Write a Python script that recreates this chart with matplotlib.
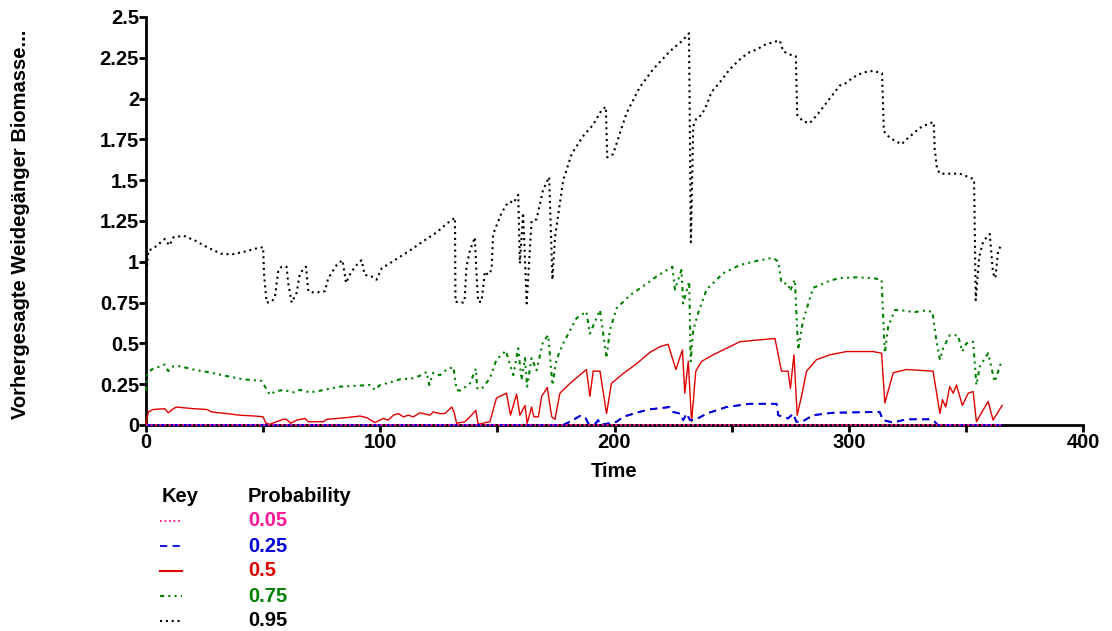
import matplotlib
matplotlib.use("Agg")
import matplotlib.pyplot as plt
from matplotlib.lines import Line2D

plt.rcParams['font.family'] = ['Liberation Sans', 'DejaVu Sans']
plt.rcParams['font.weight'] = 'bold'

# ---------------- data ----------------
p95_t = [0, 1, 3, 8, 10, 11.7, 16, 21, 26, 32, 36.5, 41.5, 46.5, 50, 50.4, 51.5, 53.6, 55, 56.5, 58, 60,
         60.7, 62.2, 64.3, 65.7, 68.3, 69.3, 72, 76.4, 77.8, 81.4, 83.9, 85.4, 87, 89.2, 92, 93.4, 96.3,
         98.4, 100.6, 104, 112.7, 119.8, 124, 129, 131.9, 132.1, 135.4, 136, 136.8, 138.3, 140.4, 141,
         141.8, 143.2, 144.7, 146, 147.5, 148.2, 151.8, 153.9, 155.4, 156.8, 158.9, 159.6, 161, 162.5,
         164.6, 166.7, 169.5, 172.1, 173.5, 174.6, 178.1, 181.7, 186.6, 190.9, 194.5, 196.3, 196.9,
         199.4, 205.1, 210.8, 216.5, 223.6, 228.6, 231.8, 232.6, 233.6, 235, 237.2, 239.3, 241.4, 245,
         249.2, 253.5, 257, 260.6, 264.2, 268.8, 270.6, 272, 274.9, 277.4, 278, 280.5, 283.4, 287.6,
         290.5, 296.2, 298.3, 301.9, 306.1, 310.4, 314.2, 315, 317.5, 322.5, 325.4, 330.3, 334.6, 336.3,
         336.7, 337.7, 338.9, 343.1, 347.4, 351, 353.5, 354.2, 355.7, 357.3, 358.8, 360.2, 361.6, 362.6,
         363.8, 365.5]
p95_v = [0.90, 1.07, 1.08, 1.14, 1.10, 1.15, 1.16, 1.13, 1.09, 1.05, 1.045, 1.06, 1.08, 1.09, 0.92, 0.75,
         0.755, 0.78, 0.95, 0.97, 0.97, 0.87, 0.75, 0.81, 0.93, 0.97, 0.82, 0.81, 0.82, 0.90, 0.98, 1.01,
         0.87, 0.92, 0.97, 1.01, 0.92, 0.91, 0.89, 0.96, 0.99, 1.07, 1.14, 1.18, 1.24, 1.27, 0.755, 0.75,
         0.76, 0.97, 1.07, 1.15, 0.95, 0.755, 0.755, 0.94, 0.92, 0.95, 1.17, 1.30, 1.35, 1.37, 1.36, 1.41,
         0.99, 1.30, 0.745, 1.25, 1.26, 1.44, 1.52, 0.89, 1.15, 1.50, 1.66, 1.77, 1.84, 1.93, 1.95, 1.64,
         1.66, 1.91, 2.07, 2.18, 2.29, 2.35, 2.40, 1.12, 1.83, 1.88, 1.90, 1.96, 2.04, 2.10, 2.18, 2.24,
         2.28, 2.30, 2.33, 2.35, 2.355, 2.29, 2.27, 2.26, 1.90, 1.86, 1.85, 1.92, 1.975, 2.08, 2.09, 2.13,
         2.16, 2.17, 2.155, 1.80, 1.76, 1.72, 1.76, 1.82, 1.85, 1.855, 1.69, 1.57, 1.54, 1.54, 1.54, 1.52,
         1.505, 0.765, 1.03, 1.12, 1.15, 1.17, 0.93, 0.90, 1.07, 1.11]

p75_t = [0, 0.3, 0.5, 2.4, 8, 9.5, 11.7, 14.5, 20.2, 28, 34.4, 41.5, 49.4, 50.8, 52.9, 55, 58.6, 62.9, 65.7,
         70, 74.3, 82.8, 95.6, 97.7, 99.9, 104, 108.4, 113.4, 117.6, 119.8, 120.9, 122.6, 125.5, 128.3,
         131.2, 132.6, 134, 138.3, 140.8, 141.4, 143.2, 146.8, 149.6, 153.6, 155.6, 156.8, 158.9, 160.3,
         161.8, 162.7, 164.6, 166.7, 169.5, 171.7, 173.5, 175.2, 178.1, 183.8, 188, 189.5, 193.8, 196.6,
         198, 200.9, 206.6, 212.2, 217.9, 224.7, 225.8, 228.6, 229.3, 231.9, 232.5, 233.6, 235.7, 239.3,
         246.4, 253.5, 260.6, 267.7, 269.9, 271.3, 274.1, 274.9, 277, 278.4, 280.5, 284.8, 292, 296.2,
         303.3, 310.4, 314, 315.4, 316.8, 319.7, 324.6, 327.5, 331.7, 335.7, 337.4, 338.9, 340.3, 343.1,
         346.6, 348.5, 350.2, 353.1, 354.5, 356, 359.5, 362.3, 365.2]
p75_v = [0.21, 0.25, 0.31, 0.34, 0.37, 0.33, 0.36, 0.36, 0.34, 0.32, 0.30, 0.28, 0.27, 0.235, 0.185, 0.205,
         0.215, 0.20, 0.215, 0.20, 0.21, 0.235, 0.245, 0.215, 0.245, 0.26, 0.28, 0.285, 0.305, 0.325,
         0.245, 0.32, 0.305, 0.34, 0.355, 0.215, 0.21, 0.255, 0.345, 0.225, 0.22, 0.285, 0.40, 0.455,
         0.36, 0.305, 0.47, 0.275, 0.41, 0.235, 0.41, 0.335, 0.51, 0.55, 0.245, 0.40, 0.50, 0.655, 0.695,
         0.56, 0.705, 0.41, 0.58, 0.715, 0.795, 0.85, 0.91, 0.97, 0.83, 0.95, 0.745, 0.88, 0.39, 0.58,
         0.685, 0.83, 0.93, 0.98, 1.005, 1.025, 1.00, 0.87, 0.865, 0.82, 0.89, 0.46, 0.64, 0.84, 0.885,
         0.90, 0.905, 0.90, 0.89, 0.44, 0.60, 0.705, 0.70, 0.69, 0.70, 0.695, 0.52, 0.40, 0.47, 0.55,
         0.55, 0.45, 0.50, 0.51, 0.245, 0.36, 0.44, 0.265, 0.39]

p50_t = [0, 1, 3, 8, 9.5, 11.7, 13, 20.2, 26, 28, 34.4, 40, 46.5, 50, 51.2, 52.9, 58.6, 60, 61.7, 64.3, 67.9,
         69.3, 75.7, 77.1, 85.6, 91.3, 94.2, 97.7, 101.3, 103.4, 105.6, 107.7, 109.9, 112, 114.1, 117,
         121.2, 122.6, 125.5, 127.6, 130.5, 131.5, 132.6, 136.1, 138.3, 140.8, 141.8, 146.8, 149.6,
         153.9, 155.6, 158.2, 159.6, 161.8, 162.7, 164.6, 165.6, 167.5, 168.9, 171.3, 173.2, 174.6,
         176.7, 181, 188, 189.5, 190.9, 193.8, 196.6, 198.7, 203.7, 209.4, 215.1, 219.4, 222.9, 226.2,
         229, 230, 231.5, 232.9, 234.7, 237.2, 242.1, 247.8, 253.5, 260.6, 268.5, 271.3, 274.1, 275.1,
         276.6, 278, 279.8, 282, 286.2, 291.9, 299, 310.4, 314, 315.4, 319, 324.6, 336, 338.9, 340,
         341.4, 343.1, 344.6, 346, 348.5, 351, 353.1, 354.5, 359.5, 361.6, 365.5]
p50_v = [0.01, 0.08, 0.095, 0.10, 0.075, 0.10, 0.11, 0.10, 0.095, 0.08, 0.07, 0.06, 0.055, 0.05, 0.01,
         0.005, 0.035, 0.035, 0.01, 0.03, 0.04, 0.02, 0.02, 0.035, 0.045, 0.055, 0.045, 0.015, 0.04, 0.03,
         0.06, 0.07, 0.05, 0.06, 0.05, 0.075, 0.06, 0.08, 0.07, 0.07, 0.11, 0.08, 0.01, 0.02, 0.05, 0.09,
         0.005, 0.02, 0.165, 0.195, 0.06, 0.19, 0.06, 0.12, 0.01, 0.11, 0.05, 0.05, 0.175, 0.23, 0.05,
         0.035, 0.195, 0.255, 0.34, 0.175, 0.33, 0.33, 0.07, 0.255, 0.315, 0.375, 0.445, 0.48, 0.495,
         0.34, 0.46, 0.195, 0.39, 0.02, 0.33, 0.39, 0.43, 0.47, 0.51, 0.52, 0.53, 0.33, 0.33, 0.225, 0.43,
         0.06, 0.175, 0.33, 0.40, 0.43, 0.45, 0.45, 0.44, 0.135, 0.32, 0.34, 0.33, 0.07, 0.155, 0.11,
         0.235, 0.195, 0.245, 0.12, 0.195, 0.205, 0.02, 0.145, 0.03, 0.12]

p25_t = [0, 178, 181, 185.2, 187.4, 188.8, 192, 193, 194, 200.9, 203.7, 209.4, 214.4, 223.6, 225, 227.9,
         229.3, 230.8, 232.2, 234.3, 239.3, 247.8, 257.8, 269.2, 269.9, 274.1, 276.3, 277.6, 280, 284.8,
         293.3, 313.2, 314.6, 319, 324.6, 334.6, 336.7, 338, 365.5]
p25_v = [0, 0, 0.02, 0.055, 0.05, 0.01, 0.01, 0.03, 0.0, 0.02, 0.05, 0.075, 0.095, 0.11, 0.08, 0.07, 0.03,
         0.07, 0.03, 0.03, 0.07, 0.11, 0.13, 0.13, 0.06, 0.04, 0.07, 0.02, 0.02, 0.06, 0.075, 0.08, 0.03,
         0.015, 0.035, 0.035, 0.02, 0.0, 0.0]

p05_t = [0, 365.5]
p05_v = [0, 0]

probabilities = ['0.05', '0.25', '0.5', '0.75', '0.95']
x_ticks = [0, 50, 100, 150, 200, 250, 300, 350, 400]
x_ticklabels = ['0', '', '100', '', '200', '', '300', '', '400']
y_ticks = [0, 0.25, 0.5, 0.75, 1, 1.25, 1.5, 1.75, 2, 2.25, 2.5]
y_ticklabels = ['0', '0.25', '0.5', '0.75', '1', '1.25', '1.5', '1.75', '2', '2.25', '2.5']

# ---------------- styles ----------------
styles = [
    dict(color='#ff1493', ls=(0, (1, 1.5)), lw=1.3),
    dict(color='#0000dd', ls=(0, (4, 3)), lw=1.3),
    dict(color='#e00000', ls='-', lw=1.0),
    dict(color='#008000', ls=(0, (2, 2, 1, 2, 1, 2)), lw=1.5),
    dict(color='#000000', ls=(0, (1, 1.8)), lw=1.5),
]
series = [(p05_t, p05_v), (p25_t, p25_v), (p50_t, p50_v), (p75_t, p75_v), (p95_t, p95_v)]

FS = 14.5

fig = plt.figure(figsize=(11.12, 6.31), dpi=100)
ax = fig.add_axes([146 / 1112, 1 - 425 / 631, (1083 - 146) / 1112, (425 - 17) / 631])

for (t, v), st in zip(series[::-1], styles[::-1]):
    ax.plot(t, v, color=st['color'], linestyle=st['ls'], linewidth=st['lw'], clip_on=False, zorder=3)
# redraw zero-level lines on top
ax.plot(p25_t, p25_v, color=styles[1]['color'], linestyle=styles[1]['ls'], lw=1.3, clip_on=False, zorder=4)
ax.plot(p05_t, p05_v, color=styles[0]['color'], linestyle=styles[0]['ls'], lw=1.3, clip_on=False, zorder=5)

ax.set_xlim(0, 400)
ax.set_ylim(0, 2.5)
ax.set_xticks(x_ticks)
ax.set_xticklabels(x_ticklabels)
ax.set_yticks(y_ticks)
ax.set_yticklabels(y_ticklabels)
for s in ['top', 'right']:
    ax.spines[s].set_visible(False)
for s in ['left', 'bottom']:
    ax.spines[s].set_linewidth(2)
    ax.spines[s].set_zorder(2)
ax.tick_params(axis='both', direction='out', length=5, width=2, labelsize=FS, pad=1)
ax.tick_params(axis='y', pad=0)
for lab in ax.get_xticklabels() + ax.get_yticklabels():
    lab.set_fontweight('bold')

ax.set_xlabel('Time', fontsize=FS, fontweight='bold', labelpad=7)
fig.text(21 / 1112, 1 - 224 / 631, 'Vorhergesagte Weidegänger Biomasse...', rotation=90,
         ha='center', va='center', fontsize=FS, fontweight='bold')

# ---------------- key ----------------
fig.text(162 / 1112, 1 - 497 / 631, 'Key', fontsize=FS, fontweight='bold', va='center', ha='left')
fig.text(248 / 1112, 1 - 497 / 631, 'Probability', fontsize=FS, fontweight='bold', va='center', ha='left')
row_y = [521, 546, 571, 596, 621]
for lab, st, yy in zip(probabilities, styles, row_y):
    yf = 1 - yy / 631
    fig.add_artist(Line2D([160 / 1112, 182 / 1112], [yf, yf], color=st['color'], linestyle=st['ls'],
                          linewidth=st['lw'] if st['ls'] != '-' else 1.5, transform=fig.transFigure))
    fig.text(248 / 1112, yf, lab, color=st['color'], fontsize=FS, fontweight='bold', va='center', ha='left')

fig.savefig('out.png', dpi=100)
